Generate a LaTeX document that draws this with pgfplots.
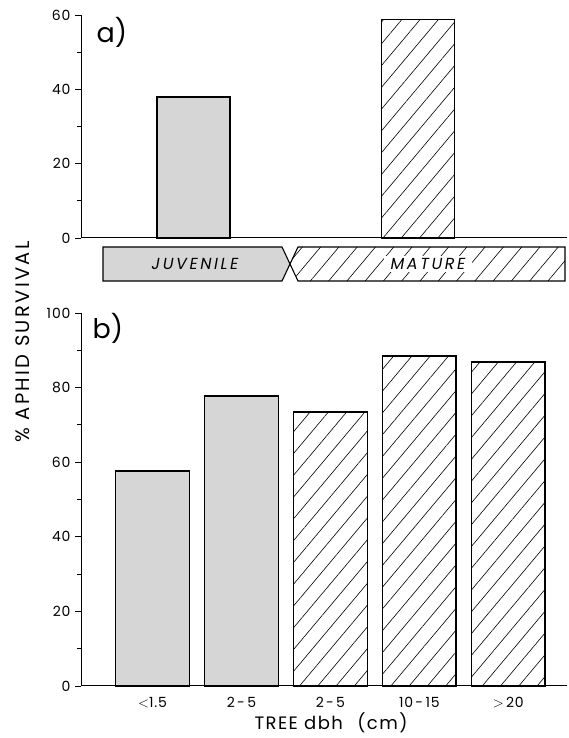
\documentclass[border=0pt]{standalone}
\usepackage{fontspec}
\setmainfont{Poppins}
\usepackage{pgfplots}
\pgfplotsset{compat=1.18}
\usetikzlibrary{patterns.meta}
\tikzset{hatch/.style={pattern={Lines[angle=50,distance=14pt,line width=0.6pt]}}}
\newcommand\tickfont{\fontsize{14}{14}\selectfont\addfontfeature{LetterSpace=6}}
\pgfplotsset{
  common/.style={
    scale only axis, width=486pt,
    axis lines*=left,
    axis line style={-, line width=1pt},
    tick align=outside,
    major tick length=6pt, minor tick length=4pt,
    tick style={line width=0.8pt, black},
    ytick style={line width=0.8pt, black},
    xtick style={draw=none},
    yticklabel style={font=\tickfont, xshift=-1pt},
    xticklabel style={font=\tickfont, yshift=-2pt},
    /pgf/number format/assume math mode=true,
    ybar, bar shift=0pt,
    clip=false,
  }
}
\begin{document}
\begin{tikzpicture}[x=1pt,y=1pt]
\useasboundingbox (0pt,0pt) rectangle (569pt,738pt);
% panel a
\begin{axis}[common, at={(81pt,500pt)}, anchor=south west,
  height=223pt, xmin=-0.501, xmax=1.664, ymin=0, ymax=60,
  ytick={0,20,40,60}, minor ytick={10,30,50}, xtick=\empty,
  bar width=0.325]
\addplot[fill=black!16, draw=black, line width=1.6pt] coordinates {(0,38.0)};
\addplot[hatch, draw=black, line width=1.6pt] coordinates {(1,58.8)};
\end{axis}
\node at (112pt,706pt) {\fontsize{27}{27}\selectfont a)};
% banner
\draw[line width=1.1pt, fill=black!16] (103pt,491pt)--(282pt,491pt)--(290pt,474pt)--(282pt,457pt)--(103pt,457pt)--cycle;
\draw[line width=1.1pt, hatch] (298pt,491pt)--(565pt,491pt)--(565pt,457pt)--(298pt,457pt)--(290pt,474pt)--cycle;
\fill[white] (428pt,474pt) ++(-44pt,-8pt) rectangle ++(88pt,16pt);
\node at (195pt,474pt) {\fontsize{16}{16}\selectfont\itshape\addfontfeature{LetterSpace=16}JUVENILE};
\node at (428pt,474pt) {\fontsize{16}{16}\selectfont\itshape\addfontfeature{LetterSpace=16}MATURE};
% panel b
\begin{axis}[common, at={(81pt,52pt)}, anchor=south west,
  height=373pt, xmin=-0.804, xmax=4.66, ymin=0, ymax=100,
  ytick={0,20,40,60,80,100}, minor ytick={10,30,50,70,90},
  xtick={0,1,2,3,4},
  xticklabels={{$<$1.5},{2\,-\,5},{2\,-\,5},{10\,-\,15},{$>$\,20}},
  bar width=0.83]
\addplot[fill=black!16, draw=black, line width=1.6pt] coordinates {(0,57.7) (1,77.8)};
\addplot[hatch, draw=black, line width=1.6pt] coordinates {(2,73.5) (3,88.5) (4,86.8)};
\end{axis}
\node at (108pt,410pt) {\fontsize{27}{27}\selectfont b)};
% axis titles
\node[rotate=90] at (23pt,396pt) {\fontsize{19.5}{19.5}\selectfont\addfontfeature{LetterSpace=12}\% APHID SURVIVAL};
\node at (331pt,15pt) {\fontsize{18}{18}\selectfont\addfontfeature{LetterSpace=8}TREE dbh\hspace{0.8em}(cm)};
\end{tikzpicture}
\end{document}
